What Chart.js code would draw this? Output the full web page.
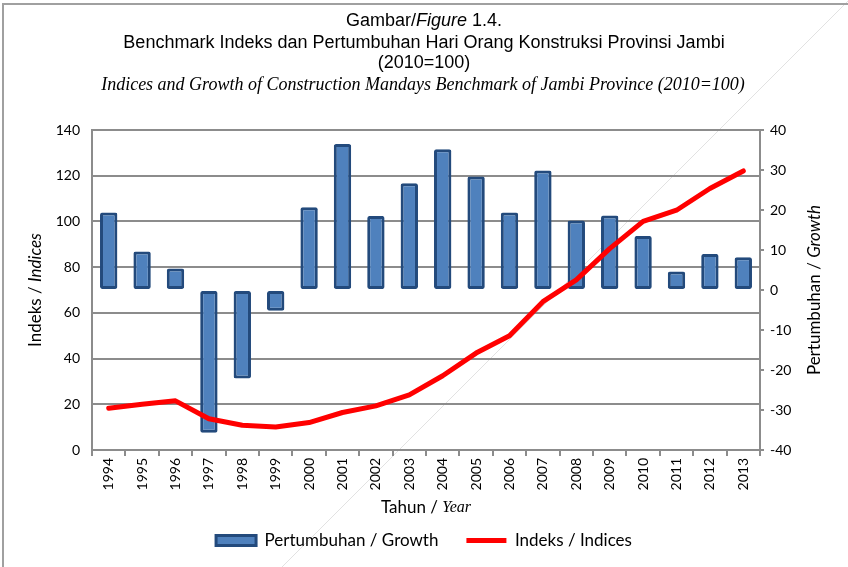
<!DOCTYPE html>
<html><head><meta charset="utf-8">
<script src="https://cdn.jsdelivr.net/npm/chart.js@4/dist/chart.umd.min.js"></script>
<style>html,body{margin:0;padding:0;background:#fff}#wrap{width:848px;height:567px;position:relative}</style>
</head><body><div id="wrap"><canvas id="c" width="848" height="567"></canvas></div>
<script>
const years = ['1994','1995','1996','1997','1998','1999','2000','2001','2002','2003','2004','2005','2006','2007','2008','2009','2010','2011','2012','2013'];
const growth = [19.4, 9.6, 5.4, -35.7, -22.1, -5.2, 20.7, 36.5, 18.5, 26.7, 35.2, 28.4, 19.4, 29.9, 17.4, 18.6, 13.5, 4.6, 9.0, 8.2];
const indices = [18.3, 20.0, 21.5, 13.7, 10.8, 10.1, 12.0, 16.4, 19.3, 24.1, 32.5, 42.4, 50.0, 64.9, 74.4, 88.1, 100.0, 104.9, 114.4, 122.1];
const leftRange = [0, 140, 20];
const rightRange = [-40, 40, 10];

const SANS = 'Lato, "Open Sans", sans-serif';
const GRID = '#8c8c8c';

function drawRich(ctx, parts, cx, cy) {
  let total = 0;
  parts.forEach(p => { ctx.font = p.f; p.w = ctx.measureText(p.t).width; total += p.w; });
  let x = cx - total / 2;
  ctx.textBaseline = 'middle';
  ctx.textAlign = 'left';
  parts.forEach(p => { ctx.font = p.f; ctx.fillText(p.t, x, cy); x += p.w; });
}

const deco = {
  id: 'deco',
  beforeDraw(chart) {
    const ctx = chart.ctx;
    ctx.save();
    ctx.fillStyle = '#fff';
    ctx.fillRect(0, 0, chart.width, chart.height);
    ctx.strokeStyle = '#e2e2e2';
    ctx.lineWidth = 1;
    ctx.beginPath(); ctx.moveTo(849, 0); ctx.lineTo(282, 567); ctx.stroke();
    ctx.strokeStyle = '#a0a0a0';
    ctx.lineWidth = 2;
    ctx.beginPath(); ctx.moveTo(3, 567); ctx.lineTo(3, 4); ctx.lineTo(848, 4); ctx.stroke();
    ctx.restore();
  },
  afterDraw(chart) {
    const ctx = chart.ctx;
    const a = chart.chartArea;
    ctx.save();
    ctx.fillStyle = '#000';
    const T = '"Liberation Sans", Arial, sans-serif';
    drawRich(ctx, [{t:'Gambar/', f:'18px ' + T}, {t:'Figure', f:'italic 18px ' + T}, {t:' 1.4.', f:'18px ' + T}], 424, 21);
    drawRich(ctx, [{t:'Benchmark Indeks dan Pertumbuhan Hari Orang Konstruksi Provinsi Jambi', f:'18px ' + T}], 424, 43);
    drawRich(ctx, [{t:'(2010=100)', f:'18px ' + T}], 424, 63);
    drawRich(ctx, [{t:'Indices and Growth of Construction Mandays Benchmark of Jambi Province (2010=100)', f:'italic 18px "Liberation Serif", serif'}], 423, 85);
    drawRich(ctx, [{t:'Tahun / ', f:'17px ' + SANS}, {t:'Year', f:'italic 16px "Liberation Serif", serif'}], (a.left + a.right) / 2, 508);
    ctx.save();
    ctx.translate(36, (a.top + a.bottom) / 2);
    ctx.rotate(-Math.PI / 2);
    drawRich(ctx, [{t:'Indeks / ', f:'17px ' + SANS}, {t:'Indices', f:'italic 17px ' + SANS}], 0, 0);
    ctx.restore();
    ctx.save();
    ctx.translate(815, (a.top + a.bottom) / 2);
    ctx.rotate(-Math.PI / 2);
    drawRich(ctx, [{t:'Pertumbuhan / ', f:'17px ' + SANS}, {t:'Growth', f:'italic 17px ' + SANS}], 0, 0);
    ctx.restore();
    ctx.restore();
  }
};

new Chart(document.getElementById('c'), {
  data: {
    labels: years,
    datasets: [
      {
        type: 'line', label: 'Indeks / Indices', data: indices, yAxisID: 'y',
        borderColor: '#ff0000', backgroundColor: '#ff0000', borderWidth: 5,
        pointRadius: 0, tension: 0, order: 0, borderCapStyle: 'round', borderJoinStyle: 'round'
      },
      {
        type: 'bar', label: 'Pertumbuhan / Growth', data: growth, yAxisID: 'y1',
        backgroundColor: '#4f81bd', borderColor: '#234a7c', borderWidth: 3,
        borderSkipped: false, borderRadius: 2,
        barPercentage: 0.52, categoryPercentage: 1.0, order: 1
      }
    ]
  },
  options: {
    responsive: false,
    animation: false,
    layout: { padding: { top: 130, left: 0, right: 0, bottom: 8 } },
    plugins: {
      title: { display: false },
      tooltip: { enabled: false },
      legend: {
        position: 'bottom',
        labels: {
          font: { family: SANS, size: 17 },
          color: '#000',
          usePointStyle: true,
          pointStyleWidth: 40,
          boxHeight: 10,
          padding: 28,
          generateLabels(chart) {
            const ds = chart.data.datasets;
            return [
              { text: ds[1].label, fillStyle: ds[1].backgroundColor, strokeStyle: ds[1].borderColor, lineWidth: 3, pointStyle: 'rect', datasetIndex: 1, hidden: false },
              { text: ds[0].label, fillStyle: ds[0].borderColor, strokeStyle: ds[0].borderColor, lineWidth: 5, pointStyle: 'line', datasetIndex: 0, hidden: false }
            ];
          }
        }
      }
    },
    scales: {
      x: {
        offset: true,
        grid: { offset: true, drawOnChartArea: false, drawTicks: true, tickLength: 6, color: GRID, lineWidth: 2 },
        border: { color: GRID, width: 2 },
        ticks: { font: { family: SANS, size: 14 }, color: '#000', minRotation: 90, maxRotation: 90, autoSkip: false, padding: 2 },
        afterFit(s) { s.height = 54; }
      },
      y: {
        position: 'left',
        min: leftRange[0], max: leftRange[1],
        ticks: { stepSize: leftRange[2], font: { family: SANS, size: 14 }, color: '#000', padding: 12 },
        grid: { color: GRID, lineWidth: 2, drawTicks: false },
        border: { color: GRID, width: 2 },
        afterFit(s) { s.width = 92; }
      },
      y1: {
        position: 'right',
        min: rightRange[0], max: rightRange[1],
        ticks: { stepSize: rightRange[2], font: { family: SANS, size: 14 }, color: '#000', padding: 6 },
        grid: { drawOnChartArea: false, color: GRID, lineWidth: 2, tickLength: 4 },
        border: { color: GRID, width: 2 },
        afterFit(s) { s.width = 88; }
      }
    }
  },
  plugins: [deco]
});
</script>
</body></html>
